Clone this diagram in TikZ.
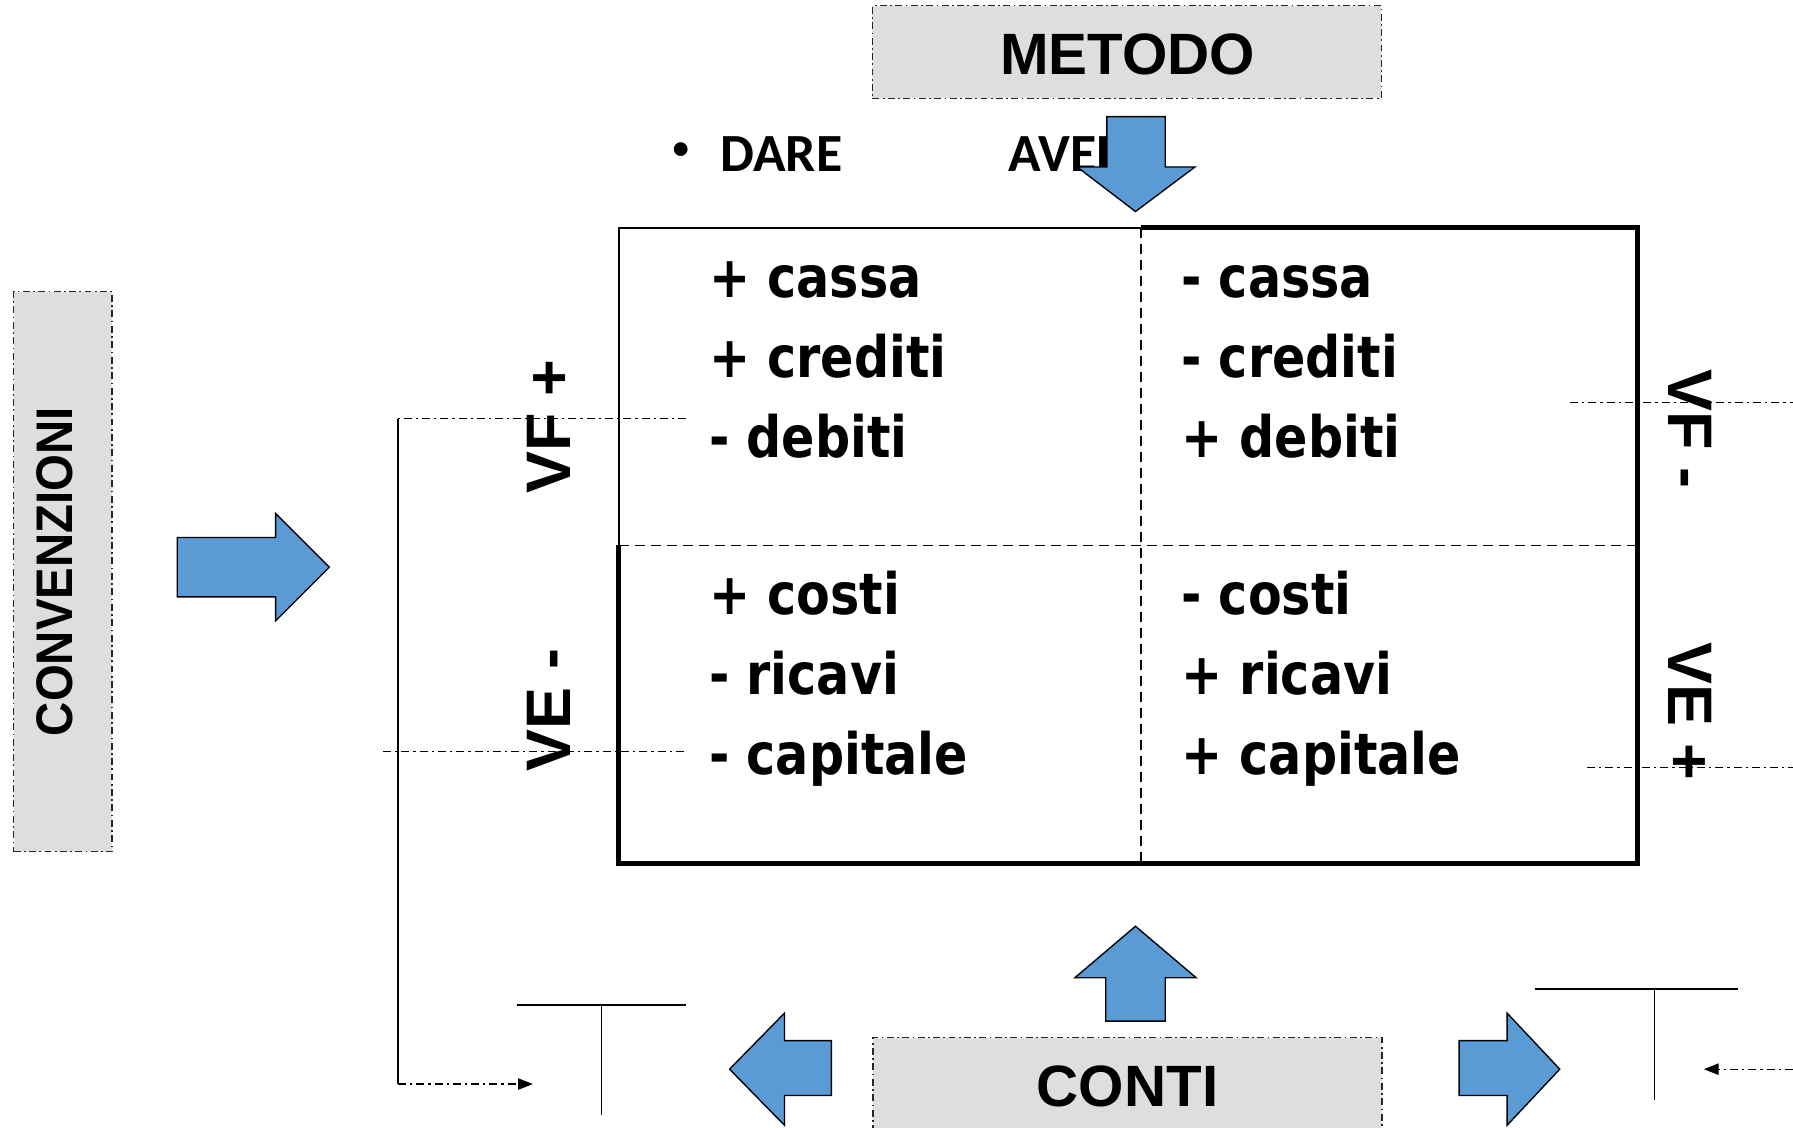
\documentclass[tikz,border=0pt]{standalone}
\usepackage{fontspec}
\usetikzlibrary{arrows.meta}
\newfontfamily\arialf{Liberation Sans}
\newfontfamily\convf{Liberation Sans}[FakeStretch=0.92]
\newfontfamily\cellf{DejaVu Sans}[FakeStretch=0.86]
\newfontfamily\calf{Carlito}
\definecolor{arrowblue}{HTML}{5B9BD5}
\definecolor{boxgray}{RGB}{222,222,222}
\tikzset{
  graybox/.style={fill=boxgray, draw=black!85, line width=1pt, dash pattern=on 6pt off 3pt on 1.5pt off 3pt},
  blockarrow/.style={fill=arrowblue, draw=black, line width=1.2pt, line join=miter},
  dashdot/.style={line width=1pt, dash pattern=on 7pt off 3.5pt on 2pt off 3.5pt},
  thinframe/.style={line width=1.8pt},
  thickframe/.style={line width=4.2pt, line join=miter},
  divider/.style={line width=1.6pt, dash pattern=on 9pt off 5pt},
  celltext/.style={anchor=base west, inner sep=0pt, font=\cellf\bfseries\fontsize{50}{60}\selectfont},
  vlabel/.style={inner sep=0pt, font=\arialf\bfseries\fontsize{55}{60}\selectfont},
  titletext/.style={inner sep=0pt, anchor=base, font=\arialf\bfseries\fontsize{51}{60}\selectfont},
  daretext/.style={inner sep=0pt, anchor=base west, font=\calf\bfseries\fontsize{47}{56}\selectfont},
  taccount/.style={line width=1.8pt},
  solidline/.style={line width=1.2pt},
}
\begin{document}
\begin{tikzpicture}[x=1pt,y=-1pt]
\useasboundingbox (0,0) rectangle (1568,986);
\clip (0,0) rectangle (1568,986);

% ---- gray boxes
\node (metodo) [graybox, minimum width=445pt, minimum height=81pt] at (985.5,45.5) {};
\node (metodotxt) [titletext] at (986,65) {METODO};

\node (conti) [graybox, minimum width=445pt, minimum height=100pt, anchor=north west] at (763,907) {};
\node (contitxt) [titletext] at (986,968) {CONTI};

\node (conv) [graybox, minimum width=86pt, minimum height=490pt] at (55,500) {};
\node (convtxt) [rotate=90, inner sep=0pt, font=\convf\bfseries\fontsize{45}{50}\selectfont] at (48,500) {CONVENZIONI};

% ---- DARE / AVERE
\node (bullet) [inner sep=0pt, font=\calf\fontsize{34}{40}\selectfont] at (596,133) {\textbullet};
\node (dare) [daretext] at (630,150) {DARE};
\node (avere) [daretext] at (882,150) {AVERE};

% ---- table
\coordinate (tl) at (541,199);
\coordinate (tm) at (998,199);
\coordinate (tr) at (1432,199);
\coordinate (ml) at (541,477);
\coordinate (mr) at (1432,477);
\coordinate (bl) at (541,755);
\coordinate (bm) at (998,755);
\coordinate (br) at (1432,755);
\draw[thinframe] (ml) -- (tl) -- (tm);
\draw[thickframe] (tm) -- (tr) -- (br) -- (bl) -- (ml);
\draw[divider] (tm) -- (bm);
\draw[divider] (ml) -- (mr);

% ---- cell texts
\node (c1) [celltext] at (620,260) {+ cassa};
\node (c2) [celltext] at (620,330) {+ crediti};
\node (c3) [celltext] at (620,400) {- debiti};
\node (c4) [celltext] at (1033,260) {- cassa};
\node (c5) [celltext] at (1033,330) {- crediti};
\node (c6) [celltext] at (1033,400) {+ debiti};
\node (c7) [celltext] at (620,537) {+ costi};
\node (c8) [celltext] at (620,607) {- ricavi};
\node (c9) [celltext] at (620,677) {- capitale};
\node (c10) [celltext] at (1033,537) {- costi};
\node (c11) [celltext] at (1033,607) {+ ricavi};
\node (c12) [celltext] at (1033,677) {+ capitale};

% ---- dash-dot guide lines and connectors
\coordinate (lu1) at (600,366);
\coordinate (lu0) at (348,366);
\coordinate (lcorner) at (348,948);
\coordinate (ltip) at (466,948);
\coordinate (ll1) at (600,657);
\coordinate (ll0) at (335,657);
\coordinate (ru0) at (1373,352);
\coordinate (ru1) at (1568,352);
\coordinate (rl0) at (1388,671);
\coordinate (rl1) at (1568,671);
\coordinate (rstart) at (1568,935);
\coordinate (rtip) at (1490,935);
\draw[dashdot] (lu1) -- (lu0);
\draw[solidline] (lu0) -- (lcorner);
\draw[dashdot, -{Triangle[length=13pt,width=10pt]}] (lcorner) -- (ltip);
\draw[dashdot] (ll0) -- (ll1);
\draw[dashdot] (ru0) -- (ru1);
\draw[dashdot] (rl0) -- (rl1);
\draw[dashdot, -{Triangle[length=13pt,width=10pt]}] (rstart) -- (rtip);

% ---- side labels
\node (vfp) [vlabel, rotate=90] at (480,373) {VF +};
\node (vem) [vlabel, rotate=90] at (480,621) {VE -};
\node (vfm) [vlabel, rotate=-90] at (1478,375) {VF -};
\node (vep) [vlabel, rotate=-90] at (1478,622) {VE +};

% ---- T accounts
\coordinate (t1a) at (452,879);
\coordinate (t1b) at (600,879);
\coordinate (t1c) at (526,879);
\coordinate (t1d) at (526,975);
\draw[taccount] (t1a) -- (t1b);
\draw[solidline] (t1c) -- (t1d);
\coordinate (t2a) at (1342,865);
\coordinate (t2b) at (1520,865);
\coordinate (t2c) at (1447,865);
\coordinate (t2d) at (1447,962);
\draw[taccount] (t2a) -- (t2b);
\draw[solidline] (t2c) -- (t2d);

% ---- block arrows
\draw[blockarrow] (155,470) -- (241,470) -- (241,449) -- (288,496) -- (241,543) -- (241,522) -- (155,522) -- cycle;
\draw[blockarrow] (968,102) -- (1019,102) -- (1019,146) -- (1045,146) -- (993,185) -- (942,146) -- (968,146) -- cycle;
\draw[blockarrow] (967,893) -- (967,855) -- (940,855) -- (993,810) -- (1046,855) -- (1019,855) -- (1019,893) -- cycle;
\draw[blockarrow] (727,910) -- (686,910) -- (686,886) -- (638,935) -- (686,984) -- (686,958) -- (727,958) -- cycle;
\draw[blockarrow] (1276,910) -- (1318,910) -- (1318,886) -- (1364,935) -- (1318,984) -- (1318,958) -- (1276,958) -- cycle;
\end{tikzpicture}
\end{document}
